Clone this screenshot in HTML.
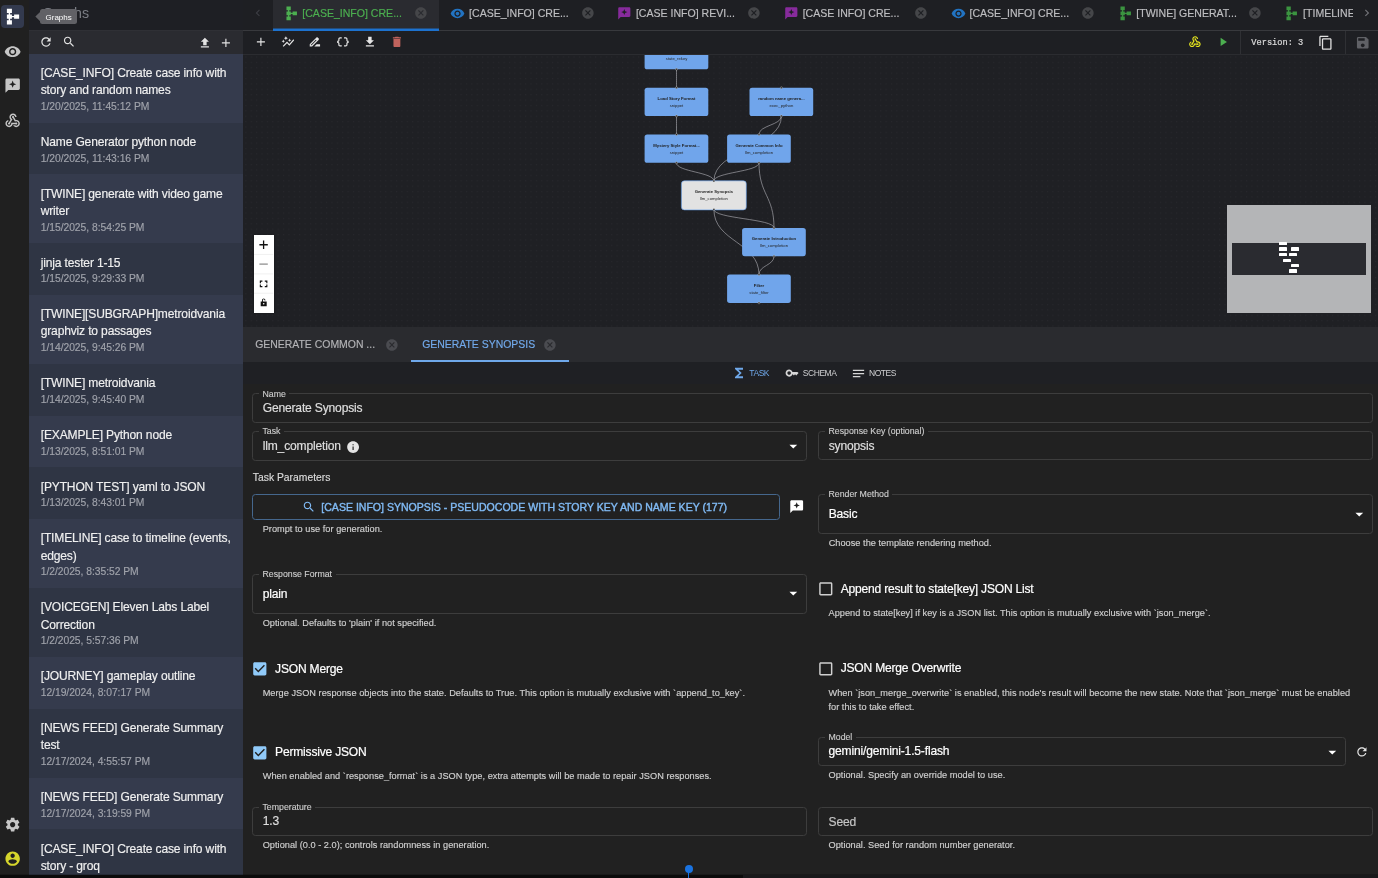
<!DOCTYPE html>
<html><head><meta charset="utf-8"><title>Graphs</title>
<style>
*{box-sizing:border-box;margin:0;padding:0}
html,body{width:1378px;height:878px;overflow:hidden;background:#212121;-webkit-font-smoothing:antialiased;font-family:"Liberation Sans",Arial,sans-serif;color:#fff}
.abs{position:absolute}
#rail{will-change:transform;position:absolute;left:0;top:0;width:29px;height:878px;background:#202020}
#rail .act{position:absolute;left:1px;top:5px;width:23px;height:23px;border-radius:4px;background:#333a4e}
#rail svg{position:absolute;fill:#c6c6c6}
#side{will-change:transform;position:absolute;left:29px;top:0;width:214px;height:878px;background:#2f3544;overflow:hidden}
#side .hd{position:absolute;left:0;top:0;width:214px;height:30px;background:#1e1f24}
#side .hd .t{position:absolute;left:13.5px;top:3px;font-size:14.2px;line-height:20px;color:#7b7e85}
#side .tb{position:absolute;left:0;top:30px;width:214px;height:23.6px;background:#2a2b30;border-top:1px solid #2f3035}
#side .tb svg{position:absolute;fill:#e3e3e3}
.tip{position:absolute;left:11px;top:9.3px;height:15px;width:37.3px;background:#616166;border-radius:2.5px;font-size:8px;line-height:15px;color:#fff;text-align:center;padding-top:.8px}
.tip:before{content:"";position:absolute;left:-2.6px;top:4.2px;width:6.6px;height:6.6px;background:#616166;transform:rotate(45deg)}
.tip span{position:relative}
#list{position:absolute;left:0;top:53.6px;width:214px}
.it{width:214px;padding:11.3px 0 8.65px 11.7px}
.it.o{background:#353b4d}
.it.e{background:#2f3544}
.it .n{font-size:12.05px;line-height:17.2px;color:#f0f0f0;white-space:nowrap;letter-spacing:-.155px;-webkit-text-stroke:.16px #f0f0f0}
.it .d{font-size:10.33px;line-height:14px;color:#a0a3ab;margin-top:.6px;letter-spacing:-.04px;-webkit-text-stroke:.15px #a0a3ab}
#main{will-change:transform;position:absolute;left:243px;top:0;width:1135px;height:878px;background:#212121}

#tabs{position:absolute;left:0;top:0;width:1135px;height:31px;background:#1e1f23;border-bottom:1px solid #38393d}
.tab{position:absolute;top:0;height:30px;width:166.8px}
.tab.on{background:#2a2b30;height:31px}
.tab.on:after{content:"";position:absolute;left:0;top:28px;width:100%;height:3px;background:linear-gradient(#1d72cf 0,#1d72cf 100%);box-shadow:inset 0 1px 0 #2a2b3088}
.tab svg{position:absolute}
.tab .tx{position:absolute;left:29.8px;top:6px;font-size:10.55px;line-height:14px;color:#bebec1;white-space:nowrap;letter-spacing:0;-webkit-text-stroke:.18px}
.tab.on .tx{color:#4caf50}
.tab .x{left:141.3px;top:6.3px;fill:#454649}
#tbar{position:absolute;left:0;top:31px;width:1135px;height:24px;background:#1e1f23;border-bottom:1px solid #2b2c30}
#tbar svg{position:absolute;top:4.3px;fill:#e6e6e6}
#tbar .vd{position:absolute;top:0;width:1px;height:23px;background:#2f3034}
#tbar .ver{position:absolute;left:1008.3px;top:5.9px;-webkit-text-stroke:.2px #dcdcdc;font-family:"Liberation Mono",monospace;font-size:8.67px;line-height:13px;color:#dcdcdc;white-space:nowrap}
#cv{position:absolute;left:0;top:55px;width:1135px;height:272px;background:#1f2024;overflow:hidden}

#ntabs{position:absolute;left:0;top:327px;width:1135px;height:35px;background:#2a2b2f}
#ntabs .nt{position:absolute;font-size:10.45px;line-height:14px;color:#b4b4b7;white-space:nowrap;-webkit-text-stroke:.15px}
#ntabs svg{position:absolute;top:12px;fill:#4a4b50}
#ntabs .ul{position:absolute;left:168px;top:32.4px;width:158px;height:2.2px;background:#6fa8ea}
#stabs{position:absolute;left:0;top:362px;width:1135px;height:24px;background:#1f2024;border-bottom:2px solid #2a2b2e}
#stabs .st{position:absolute;font-size:8.5px;line-height:11px;color:#d0d0d2;white-space:nowrap;letter-spacing:-.45px}
#stabs svg{position:absolute}
#form{position:absolute;left:0;top:384px;width:1135px;height:494px;background:#212121}
.f{position:absolute;border:1px solid #3d3d3d;border-radius:3.4px}
.f .l{position:absolute;left:5.9px;padding:0 3.6px;background:#212121;font-size:8.75px;line-height:11px;color:#cfcfcf;white-space:nowrap;-webkit-text-stroke:.12px}
.f .v{position:absolute;font-size:12.05px;line-height:16px;color:#dedede;white-space:nowrap;letter-spacing:-.16px;-webkit-text-stroke:.2px}
.f svg{position:absolute;fill:#fff}
.hp{position:absolute;font-size:9.2px;line-height:14.2px;color:#d0d0d0;white-space:nowrap;letter-spacing:.025px;-webkit-text-stroke:.15px}
.cl{position:absolute;font-size:12.05px;line-height:16px;color:#fff;white-space:nowrap;letter-spacing:-.2px;-webkit-text-stroke:.2px}
.cb{position:absolute}
</style></head><body>
<div id="rail"><div class="act"></div>
<svg style="left:3.8px;top:8px;fill:#fff" width="17.3" height="17.3" viewBox="0 0 24 24"><path d="M14 9v2h-3V9H8.500V7H11V1H4v6h2.500v2H4v6h2.500v2H4v6h7v-6H8.500v-2H11v-2h3v2h7V9h-7z"/></svg>
<svg style="left:4.1px;top:42.7px" width="17.3" height="17.3" viewBox="0 0 24 24"><path d="M12 4.500C7 4.500 2.730 7.610 1 12c1.730 4.390 6 7.500 11 7.500s9.270-3.110 11-7.500c-1.730-4.390-6-7.500-11-7.500zM12 17c-2.760 0-5-2.240-5-5s2.240-5 5-5 5 2.240 5 5-2.240 5-5 5zm0-8c-1.660 0-3 1.340-3 3s1.340 3 3 3 3-1.340 3-3-1.340-3-3-3z"/></svg>
<svg style="left:4.1px;top:77px" width="17.3" height="17.3" viewBox="0 0 24 24"><path fill-rule="evenodd" d="M20 2H4c-1.100 0-2 .9-2 2v18l4-4h14c1.100 0 2-.9 2-2V4c0-1.100-.9-2-2-2zM12 5l1.400 3.600L17 10l-3.600 1.400L12 15l-1.400-3.600L7 10l3.600-1.400z"/></svg>
<svg style="left:4.1px;top:111.7px" width="17.3" height="17.3" viewBox="0 0 24 24"><path d="M10 15h5.880c.27-.31.67-.5 1.120-.5.830 0 1.500.67 1.500 1.500s-.67 1.500-1.500 1.500c-.44 0-.84-.19-1.120-.5H11.900c-.46 2.280-2.480 4-4.900 4-2.760 0-5-2.240-5-5 0-2.420 1.720-4.440 4-4.900v2.070c-1.160.41-2 1.530-2 2.830 0 1.650 1.350 3 3 3s3-1.350 3-3v-1zm2.500-11c1.650 0 3 1.350 3 3h2c0-2.760-2.240-5-5-5s-5 2.240-5 5c0 1.430.6 2.710 1.550 3.620l-2.350 3.900c-.68.140-1.200.75-1.200 1.480 0 .83.67 1.500 1.500 1.500s1.500-.67 1.500-1.500c0-.16-.02-.31-.07-.45l3.380-5.630C10.490 9.610 9.500 8.420 9.500 7c0-1.650 1.350-3 3-3zm4.500 9c-.64 0-1.230.2-1.720.54l-3.050-5.070C11.530 8.350 11 7.740 11 7c0-.83.67-1.500 1.500-1.500S14 6.170 14 7c0 .15-.02.29-.06.43l2.190 3.650c.28-.05.57-.08.870-.08 2.760 0 5 2.240 5 5s-2.240 5-5 5c-1.850 0-3.470-1.010-4.330-2.500h2.670c.48.32 1.050.5 1.660.5 1.650 0 3-1.350 3-3s-1.350-3-3-3z"/></svg>
<svg style="left:4.1px;top:815.6px" width="17.3" height="17.3" viewBox="0 0 24 24"><path d="M19.140 12.940c.04-.3.06-.61.06-.94 0-.32-.02-.64-.07-.94l2.030-1.580c.18-.14.23-.41.12-.61l-1.920-3.320c-.12-.22-.37-.29-.59-.22l-2.390.96c-.5-.38-1.030-.7-1.620-.94l-.36-2.540c-.04-.24-.24-.41-.48-.41h-3.840c-.24 0-.43.17-.47.41l-.36 2.540c-.59.24-1.130.57-1.620.94l-2.390-.96c-.22-.08-.47 0-.59.22L2.740 8.870c-.12.21-.08.47.12.61l2.030 1.580c-.05.3-.09.63-.09.94s.02.64.07.94l-2.030 1.580c-.18.14-.23.41-.12.61l1.920 3.320c.12.22.37.29.59.22l2.390-.96c.5.38 1.030.7 1.620.94l.36 2.540c.05.24.24.41.48.41h3.840c.24 0 .44-.17.47-.41l.36-2.540c.59-.24 1.130-.56 1.620-.94l2.390.96c.22.08.47 0 .59-.22l1.920-3.320c.12-.22.07-.47-.12-.61l-2.010-1.580zM12 15.600c-1.980 0-3.600-1.620-3.600-3.600s1.620-3.600 3.600-3.600 3.600 1.620 3.600 3.600-1.620 3.600-3.600 3.600z"/></svg>
<svg style="left:4.1px;top:849.8px;fill:#d6d62c" width="17.3" height="17.3" viewBox="0 0 24 24"><path d="M12 2C6.480 2 2 6.480 2 12s4.480 10 10 10 10-4.480 10-10S17.520 2 12 2zm0 3c1.660 0 3 1.340 3 3s-1.340 3-3 3-3-1.340-3-3 1.340-3 3-3zm0 14.200c-2.500 0-4.710-1.280-6-3.220.03-1.990 4-3.080 6-3.080 1.990 0 5.970 1.090 6 3.080-1.290 1.940-3.500 3.220-6 3.220z"/></svg>
</div>
<div id="side">
<div id="list">
<div class="it o"><div class="n">[CASE_INFO] Create case info with<br>story and random names</div><div class="d">1/20/2025, 11:45:12 PM</div></div>
<div class="it e"><div class="n">Name Generator python node</div><div class="d">1/20/2025, 11:43:16 PM</div></div>
<div class="it o"><div class="n">[TWINE] generate with video game<br>writer</div><div class="d">1/15/2025, 8:54:25 PM</div></div>
<div class="it e"><div class="n">jinja tester 1-15</div><div class="d">1/15/2025, 9:29:33 PM</div></div>
<div class="it o"><div class="n">[TWINE][SUBGRAPH]metroidvania<br>graphviz to passages</div><div class="d">1/14/2025, 9:45:26 PM</div></div>
<div class="it e"><div class="n">[TWINE] metroidvania</div><div class="d">1/14/2025, 9:45:40 PM</div></div>
<div class="it o"><div class="n">[EXAMPLE] Python node</div><div class="d">1/13/2025, 8:51:01 PM</div></div>
<div class="it e"><div class="n">[PYTHON TEST] yaml to JSON</div><div class="d">1/13/2025, 8:43:01 PM</div></div>
<div class="it o"><div class="n">[TIMELINE] case to timeline (events,<br>edges)</div><div class="d">1/2/2025, 8:35:52 PM</div></div>
<div class="it e"><div class="n">[VOICEGEN] Eleven Labs Label<br>Correction</div><div class="d">1/2/2025, 5:57:36 PM</div></div>
<div class="it o"><div class="n">[JOURNEY] gameplay outline</div><div class="d">12/19/2024, 8:07:17 PM</div></div>
<div class="it e"><div class="n">[NEWS FEED] Generate Summary<br>test</div><div class="d">12/17/2024, 4:55:57 PM</div></div>
<div class="it o"><div class="n">[NEWS FEED] Generate Summary</div><div class="d">12/17/2024, 3:19:59 PM</div></div>
<div class="it e"><div class="n">[CASE_INFO] Create case info with<br>story - groq</div></div>
</div>
<div class="hd"><div class="t">Graphs</div></div>
<div class="tb">
<svg style="left:9.5px;top:4.1px" width="14" height="14" viewBox="0 0 24 24"><path d="M17.65 6.35C16.2 4.9 14.21 4 12 4c-4.42 0-7.99 3.58-7.99 8s3.57 8 7.99 8c3.73 0 6.84-2.55 7.73-6h-2.08c-.82 2.33-3.04 4-5.65 4-3.31 0-6-2.69-6-6s2.69-6 6-6c1.66 0 3.14.69 4.22 1.78L13 11h7V4l-2.35 2.35z"/></svg>
<svg style="left:33.2px;top:4.4px" width="14.2" height="13.8" viewBox="0 0 24 24"><path d="M15.5 14h-.79l-.28-.27C15.41 12.59 16 11.11 16 9.5 16 5.91 13.09 3 9.5 3S3 5.91 3 9.5 5.91 16 9.5 16c1.61 0 3.09-.59 4.23-1.57l.27.28v.79l5 4.99L20.49 19l-4.99-5zm-6 0C7.01 14 5 11.99 5 9.5S7.01 5 9.5 5 14 7.01 14 9.5 11.990 14 9.5 14z"/></svg>
<svg style="left:168.6px;top:4.6px" width="13.8" height="13.8" viewBox="0 0 24 24"><path d="M9 16h6v-6h4l-7-7-7 7h4zm-4 2h14v2H5z"/></svg>
<svg style="left:190.4px;top:4.6px" width="13.8" height="13.8" viewBox="0 0 24 24"><path d="M19 13h-6v6h-2v-6H5v-2h6V5h2v6h6v2z"/></svg>
</div>
<div class="tip"><span>Graphs</span></div>
</div>
<div id="main">
<div id="tabs">
<svg class="abs" style="left:8.4px;top:6.1px;fill:#3c3d43" width="13.8" height="13.8" viewBox="0 0 24 24"><path d="M15.410 7.410 14 6l-6 6 6 6 1.410-1.410L10.830 12z"/></svg>
<div class="abs" style="left:29.5px;top:0;width:1080.5px;height:31px;overflow:hidden">
<div class="tab on" style="left:0.0px"><svg style="left:11.2px;top:5.9px;fill:#4caf50" width="14.8" height="14.8" viewBox="0 0 24 24"><path d="M14 9v2h-3V9H8.500V7H11V1H4v6h2.500v2H4v6h2.500v2H4v6h7v-6H8.500v-2H11v-2h3v2h7V9h-7z"/></svg><div class="tx">[CASE_INFO] CRE...</div><svg class="x" width="13.8" height="13.8" viewBox="0 0 24 24"><path d="M12 2C6.470 2 2 6.470 2 12s4.470 10 10 10 10-4.470 10-10S17.530 2 12 2zm5 13.590L15.590 17 12 13.410 8.410 17 7 15.590 10.590 12 7 8.410 8.410 7 12 10.590 15.590 7 17 8.410 13.410 12 17 15.590z"/></svg></div>
<div class="tab" style="left:166.8px"><svg style="left:11.2px;top:5.9px;fill:#2273c2" width="15" height="15" viewBox="0 0 24 24"><path d="M12 4.500C7 4.500 2.730 7.610 1 12c1.730 4.390 6 7.500 11 7.500s9.270-3.110 11-7.500c-1.730-4.390-6-7.500-11-7.500zM12 17c-2.760 0-5-2.240-5-5s2.240-5 5-5 5 2.240 5 5-2.240 5-5 5zm0-8c-1.660 0-3 1.340-3 3s1.340 3 3 3 3-1.340 3-3-1.340-3-3-3z"/></svg><div class="tx">[CASE_INFO] CRE...</div><svg class="x" width="13.8" height="13.8" viewBox="0 0 24 24"><path d="M12 2C6.470 2 2 6.470 2 12s4.470 10 10 10 10-4.470 10-10S17.530 2 12 2zm5 13.590L15.590 17 12 13.410 8.410 17 7 15.590 10.590 12 7 8.410 8.410 7 12 10.590 15.590 7 17 8.410 13.410 12 17 15.590z"/></svg></div>
<div class="tab" style="left:333.6px"><svg style="left:11.2px;top:5.9px;fill:#872b9c" width="14.6" height="14.6" viewBox="0 0 24 24"><path fill-rule="evenodd" d="M20 2H4c-1.100 0-2 .9-2 2v18l4-4h14c1.100 0 2-.9 2-2V4c0-1.100-.9-2-2-2zM12 5l1.400 3.600L17 10l-3.600 1.400L12 15l-1.400-3.600L7 10l3.600-1.400z"/></svg><div class="tx">[CASE INFO] REVI...</div><svg class="x" width="13.8" height="13.8" viewBox="0 0 24 24"><path d="M12 2C6.470 2 2 6.470 2 12s4.470 10 10 10 10-4.470 10-10S17.530 2 12 2zm5 13.590L15.590 17 12 13.410 8.410 17 7 15.590 10.590 12 7 8.410 8.410 7 12 10.590 15.590 7 17 8.410 13.410 12 17 15.590z"/></svg></div>
<div class="tab" style="left:500.4px"><svg style="left:11.2px;top:5.9px;fill:#872b9c" width="14.6" height="14.6" viewBox="0 0 24 24"><path fill-rule="evenodd" d="M20 2H4c-1.100 0-2 .9-2 2v18l4-4h14c1.100 0 2-.9 2-2V4c0-1.100-.9-2-2-2zM12 5l1.400 3.600L17 10l-3.600 1.400L12 15l-1.400-3.600L7 10l3.600-1.400z"/></svg><div class="tx">[CASE INFO] CRE...</div><svg class="x" width="13.8" height="13.8" viewBox="0 0 24 24"><path d="M12 2C6.470 2 2 6.470 2 12s4.470 10 10 10 10-4.470 10-10S17.530 2 12 2zm5 13.590L15.590 17 12 13.410 8.410 17 7 15.590 10.590 12 7 8.410 8.410 7 12 10.590 15.590 7 17 8.410 13.410 12 17 15.590z"/></svg></div>
<div class="tab" style="left:667.2px"><svg style="left:11.2px;top:5.9px;fill:#2273c2" width="15" height="15" viewBox="0 0 24 24"><path d="M12 4.500C7 4.500 2.730 7.610 1 12c1.730 4.390 6 7.500 11 7.500s9.270-3.110 11-7.500c-1.730-4.390-6-7.500-11-7.500zM12 17c-2.760 0-5-2.240-5-5s2.240-5 5-5 5 2.240 5 5-2.240 5-5 5zm0-8c-1.660 0-3 1.340-3 3s1.340 3 3 3 3-1.340 3-3-1.340-3-3-3z"/></svg><div class="tx">[CASE_INFO] CRE...</div><svg class="x" width="13.8" height="13.8" viewBox="0 0 24 24"><path d="M12 2C6.470 2 2 6.470 2 12s4.470 10 10 10 10-4.470 10-10S17.530 2 12 2zm5 13.590L15.590 17 12 13.410 8.410 17 7 15.590 10.590 12 7 8.410 8.410 7 12 10.590 15.590 7 17 8.410 13.410 12 17 15.590z"/></svg></div>
<div class="tab" style="left:834.0px"><svg style="left:11.2px;top:5.9px;fill:#3b9440" width="14.8" height="14.8" viewBox="0 0 24 24"><path d="M14 9v2h-3V9H8.500V7H11V1H4v6h2.500v2H4v6h2.500v2H4v6h7v-6H8.500v-2H11v-2h3v2h7V9h-7z"/></svg><div class="tx">[TWINE] GENERAT...</div><svg class="x" width="13.8" height="13.8" viewBox="0 0 24 24"><path d="M12 2C6.470 2 2 6.470 2 12s4.470 10 10 10 10-4.470 10-10S17.530 2 12 2zm5 13.590L15.590 17 12 13.410 8.410 17 7 15.590 10.590 12 7 8.410 8.410 7 12 10.590 15.590 7 17 8.410 13.410 12 17 15.590z"/></svg></div>
<div class="tab" style="left:1000.8px"><svg style="left:11.2px;top:5.9px;fill:#3b9440" width="14.8" height="14.8" viewBox="0 0 24 24"><path d="M14 9v2h-3V9H8.500V7H11V1H4v6h2.500v2H4v6h2.500v2H4v6h7v-6H8.500v-2H11v-2h3v2h7V9h-7z"/></svg><div class="tx">[TIMELINE</div><svg class="x" width="13.8" height="13.8" viewBox="0 0 24 24"><path d="M12 2C6.470 2 2 6.470 2 12s4.470 10 10 10 10-4.470 10-10S17.530 2 12 2zm5 13.590L15.590 17 12 13.410 8.410 17 7 15.590 10.590 12 7 8.410 8.410 7 12 10.590 15.590 7 17 8.410 13.410 12 17 15.590z"/></svg></div>
</div>
<div class="abs" style="left:1110px;top:0;width:25px;height:30px;background:#1e1f23"></div>
<svg class="abs" style="left:1117.4px;top:6.1px;fill:#727378" width="13.8" height="13.8" viewBox="0 0 24 24"><path d="M10 6 8.590 7.410 13.170 12l-4.580 4.590L10 18l6-6z"/></svg>
</div>
<div id="tbar">
<svg style="left:10.6px" width="13.8" height="13.8" viewBox="0 0 24 24"><path d="M19 13h-6v6h-2v-6H5v-2h6V5h2v6h6v2z"/></svg>
<svg style="left:37.7px" width="13.8" height="13.8" viewBox="0 0 24 24"><path d="M14.060 9.940 12 9l2.060-.94L15 6l.94 2.060L18 9l-2.060.94L15 12l-.94-2.060zM4 14l.94-2.060L7 11l-2.060-.94L4 8l-.94 2.060L1 11l2.060.94L4 14zm4.500-5 1.090-2.410L12 5.500 9.590 4.410 8.500 2 7.410 4.410 5 5.500l2.410 1.090L8.500 9zm-4 11.500 6-6.010 4 4L23 8.930l-1.410-1.410-7.090 7.970-4-4L3 19l1.500 1.500z"/></svg>
<svg style="left:65.0px" width="13.8" height="13.8" viewBox="0 0 24 24"><path d="M18.410 5.800 17.200 4.590c-.78-.78-2.050-.78-2.830 0l-2.680 2.680L3 15.960V20h4.040l8.740-8.740 2.630-2.630c.79-.78.79-2.050 0-2.830zM6.210 18H5v-1.210l8.660-8.660 1.210 1.210L6.210 18zM11 20l4-4h6v4H11z"/></svg>
<svg style="left:92.6px" width="13.8" height="13.8" viewBox="0 0 24 24"><path d="M4 7v2c0 .55-.45 1-1 1H2v4h1c.55 0 1 .45 1 1v2c0 1.650 1.350 3 3 3h3v-2H7c-.55 0-1-.45-1-1v-2c0-1.300-.84-2.420-2-2.830v-.34C5.160 11.420 6 10.300 6 9V7c0-.55.45-1 1-1h3V4H7C5.350 4 4 5.350 4 7zm17 3c-.55 0-1-.45-1-1V7c0-1.650-1.350-3-3-3h-3v2h3c.55 0 1 .45 1 1v2c0 1.300.84 2.420 2 2.830v.34c-1.160.41-2 1.520-2 2.830v2c0 .55-.45 1-1 1h-3v2h3c1.650 0 3-1.350 3-3v-2c0-.55.45-1 1-1h1v-4h-1z"/></svg>
<svg style="left:119.9px" width="13.8" height="13.8" viewBox="0 0 24 24"><path d="M19 9h-4V3H9v6H5l7 7 7-7zM5 18v2h14v-2H5z"/></svg>
<svg style="left:146.9px;fill:#c0635d" width="13.8" height="13.8" viewBox="0 0 24 24"><path d="M6 19c0 1.100.9 2 2 2h8c1.100 0 2-.9 2-2V7H6v12zM19 4h-3.500l-1-1h-5l-1 1H5v2h14V4z"/></svg>
<svg style="left:945.3px;fill:#e6e61e" width="13.8" height="13.8" viewBox="0 0 24 24"><path d="M10 15h5.880c.27-.31.67-.5 1.120-.5.830 0 1.500.67 1.500 1.500s-.67 1.500-1.500 1.500c-.44 0-.84-.19-1.120-.5H11.900c-.46 2.280-2.480 4-4.900 4-2.760 0-5-2.240-5-5 0-2.420 1.720-4.440 4-4.900v2.070c-1.160.41-2 1.530-2 2.830 0 1.650 1.350 3 3 3s3-1.350 3-3v-1zm2.500-11c1.650 0 3 1.350 3 3h2c0-2.760-2.240-5-5-5s-5 2.240-5 5c0 1.430.6 2.710 1.550 3.620l-2.350 3.900c-.68.140-1.200.75-1.200 1.480 0 .83.67 1.500 1.500 1.500s1.500-.67 1.500-1.500c0-.16-.02-.31-.07-.45l3.380-5.630C10.490 9.610 9.500 8.420 9.500 7c0-1.650 1.350-3 3-3zm4.500 9c-.64 0-1.230.2-1.720.54l-3.050-5.070C11.530 8.350 11 7.740 11 7c0-.83.67-1.500 1.500-1.500S14 6.170 14 7c0 .15-.02.29-.06.43l2.190 3.650c.28-.05.57-.08.870-.08 2.760 0 5 2.240 5 5s-2.240 5-5 5c-1.850 0-3.470-1.010-4.330-2.500h2.670c.48.32 1.050.5 1.660.5 1.650 0 3-1.350 3-3s-1.350-3-3-3z"/></svg>
<svg style="left:972.8px;fill:#4caf50" width="13.8" height="13.8" viewBox="0 0 24 24"><path d="M8 5v14l11-7z"/></svg>
<div class="vd" style="left:996.6px"></div><div class="ver">Version: 3</div>
<svg style="left:1075.2px;fill:#e0e0e0;top:3.5px" width="15.5" height="15.5" viewBox="0 0 24 24"><path d="M16 1H4c-1.100 0-2 .9-2 2v14h2V3h12V1zm3 4H8c-1.100 0-2 .9-2 2v14c0 1.100.9 2 2 2h11c1.100 0 2-.9 2-2V7c0-1.100-.9-2-2-2zm0 16H8V7h11v14z"/></svg>
<div class="vd" style="left:1101.5px"></div>
<svg style="left:1112.2px;fill:#606166;top:3.5px" width="15.5" height="15.5" viewBox="0 0 24 24"><path d="M17 3H5c-1.110 0-2 .9-2 2v14c0 1.100.89 2 2 2h14c1.100 0 2-.9 2-2V7l-4-4zm-5 16c-1.660 0-3-1.340-3-3s1.340-3 3-3 3 1.340 3 3-1.340 3-3 3zm3-10H5V5h10v4z"/></svg>
</div>
<div id="ntabs">
<div class="nt" style="left:12.2px;top:11px">GENERATE COMMON ...</div>
<svg style="left:142.00px;top:11.4px" width="13.8" height="13.8" viewBox="0 0 24 24"><path d="M12 2C6.470 2 2 6.470 2 12s4.470 10 10 10 10-4.470 10-10S17.530 2 12 2zm5 13.590L15.590 17 12 13.410 8.410 17 7 15.590 10.590 12 7 8.410 8.410 7 12 10.590 15.590 7 17 8.410 13.410 12 17 15.590z"/></svg>
<div class="nt" style="left:179.2px;top:11px;color:#72aaec">GENERATE SYNOPSIS</div>
<svg style="left:300.30px;top:11.4px" width="13.8" height="13.8" viewBox="0 0 24 24"><path d="M12 2C6.470 2 2 6.470 2 12s4.470 10 10 10 10-4.470 10-10S17.530 2 12 2zm5 13.590L15.590 17 12 13.410 8.410 17 7 15.590 10.590 12 7 8.410 8.410 7 12 10.590 15.590 7 17 8.410 13.410 12 17 15.590z"/></svg>
<div class="ul" style="left:168.2px;top:32.6px;width:157.8px;height:2.4px"></div>
</div>
<div id="stabs">
<svg style="left:488.10px;top:3.25px;fill:#6fa8ea" width="16" height="16" viewBox="0 0 24 24"><path d="M18 4H6v2l6.500 6L6 18v2h12v-3h-7l5-5-5-5h7z"/></svg>
<div class="st" style="left:506.3px;top:5.7px;color:#6fa8ea">TASK</div>
<svg style="left:542.10px;top:4.10px;fill:#d6d6d6" width="14.2" height="14.2" viewBox="0 0 24 24"><path d="M21 10h-8.350C11.830 7.670 9.610 6 7 6c-3.310 0-6 2.690-6 6s2.690 6 6 6c2.610 0 4.830-1.670 5.650-4H13l2 2 2-2 2 2 4-4.040L21 10zM7 15c-1.650 0-3-1.350-3-3s1.350-3 3-3 3 1.350 3 3-1.350 3-3 3z"/></svg>
<div class="st" style="left:559.8px;top:5.7px">SCHEMA</div>
<svg style="left:608.30px;top:3.80px;fill:#d6d6d6" width="15" height="15" viewBox="0 0 24 24"><path d="M21 11.010 3 11v2h18zM3 16h12v2H3zM21 6H3v2.010L21 8z"/></svg>
<div class="st" style="left:626.0px;top:5.7px">NOTES</div>
</div>
<div id="form">
<div class="f" style="left:9px;top:9px;width:1121px;height:30px"><div class="l" style="top:-5.13px">Name</div><div class="v" style="left:9.70px;top:6.32px">Generate Synopsis</div></div>
<div class="f" style="left:9px;top:47px;width:555px;height:30px"><div class="l" style="top:-6.13px">Task</div><div class="v" style="left:9.70px;top:6.02px">llm_completion</div><svg style="left:92.50px;top:7.60px;fill:#e4e4e4" width="14.2" height="14.2" viewBox="0 0 24 24"><path d="M12 2C6.480 2 2 6.480 2 12s4.480 10 10 10 10-4.480 10-10S17.520 2 12 2zm1 15h-2v-6h2v6zm0-8h-2V7h2v2z"/></svg><svg style="left:530.90px;top:5.00px" width="18.6" height="18.6" viewBox="0 0 24 24"><path d="M7 10l5 5 5-5z"/></svg></div>
<div class="f" style="left:575px;top:47px;width:555px;height:29px"><div class="l" style="top:-6.13px">Response Key (optional)</div><div class="v" style="left:9.70px;top:5.72px">synopsis</div></div>
<div class="hp" style="left:9.8px;top:87.23px;font-size:10.3px;color:#dcdcdc">Task Parameters</div>
<div class="abs" style="left:9px;top:110px;width:528px;height:26px;border:1px solid #45678d;border-radius:3.4px">
<svg class="abs" style="left:48.60px;top:4.90px;fill:#80baf4" width="13.8" height="13.8" viewBox="0 0 24 24"><path d="M15.500 14h-.79l-.28-.27C15.410 12.590 16 11.110 16 9.500 16 5.910 13.090 3 9.500 3S3 5.910 3 9.500 5.910 16 9.500 16c1.610 0 3.090-.59 4.230-1.570l.27.28v.79l5 4.990L20.490 19l-4.990-5zm-6 0C7.010 14 5 11.990 5 9.500S7.010 5 9.500 5 14 7.010 14 9.500 11.990 14 9.500 14z"/></svg>
<div class="abs" style="left:68.3px;top:4.94px;font-size:10.55px;line-height:14px;color:#80baf4;white-space:nowrap;-webkit-text-stroke:.4px #80baf4">[CASE INFO] SYNOPSIS - PSEUDOCODE WITH STORY KEY AND NAME KEY (177)</div>
</div>
<svg class="abs" style="left:545.70px;top:115.20px;fill:#fff" width="15.4" height="15.4" viewBox="0 0 24 24"><path fill-rule="evenodd" d="M20 2H4c-1.100 0-2 .9-2 2v18l4-4h14c1.100 0 2-.9 2-2V4c0-1.100-.9-2-2-2zM12 5l1.400 3.600L17 10l-3.600 1.400L12 15l-1.400-3.600L7 10l3.600-1.400z"/></svg>
<div class="hp" style="left:19.7px;top:138.11px">Prompt to use for generation.</div>
<div class="f" style="left:575px;top:110px;width:555px;height:40px"><div class="l" style="top:-6.13px">Render Method</div><div class="v" style="left:9.70px;top:10.82px;color:#fff">Basic</div><svg style="left:531.10px;top:9.50px" width="18.6" height="18.6" viewBox="0 0 24 24"><path d="M7 10l5 5 5-5z"/></svg></div>
<div class="hp" style="left:585.7px;top:152.31px">Choose the template rendering method.</div>
<div class="f" style="left:9px;top:190px;width:555px;height:40px"><div class="l" style="top:-6.13px">Response Format</div><div class="v" style="left:9.70px;top:10.92px;color:#fff">plain</div><svg style="left:530.90px;top:9.30px" width="18.6" height="18.6" viewBox="0 0 24 24"><path d="M7 10l5 5 5-5z"/></svg></div>
<div class="hp" style="left:19.7px;top:232.11px">Optional. Defaults to 'plain' if not specified.</div>
<svg class="cb" style="left:8.10px;top:275.80px;fill:#90caf9" width="17.6" height="17.6" viewBox="0 0 24 24"><path d="M19 3H5c-1.110 0-2 .9-2 2v14c0 1.100.89 2 2 2h14c1.110 0 2-.9 2-2V5c0-1.100-.89-2-2-2zm-9 14l-5-5 1.410-1.410L10 14.170l7.590-7.590L19 8l-9 9z"/></svg><div class="cl" style="left:32.1px;top:276.72px">JSON Merge</div>
<div class="hp" style="left:19.7px;top:301.91px">Merge JSON response objects into the state. Defaults to True. This option is mutually exclusive with `append_to_key`.</div>
<svg class="cb" style="left:574.00px;top:195.80px;fill:#d0d0d0" width="17.6" height="17.6" viewBox="0 0 24 24"><path d="M19 5v14H5V5h14m0-2H5c-1.100 0-2 .9-2 2v14c0 1.100.9 2 2 2h14c1.100 0 2-.9 2-2V5c0-1.100-.9-2-2-2z"/></svg><div class="cl" style="left:597.7px;top:196.62px">Append result to state[key] JSON List</div>
<div class="hp" style="left:585.5px;top:222.21px">Append to state[key] if key is a JSON list. This option is mutually exclusive with `json_merge`.</div>
<svg class="cb" style="left:574.00px;top:275.50px;fill:#d0d0d0" width="17.6" height="17.6" viewBox="0 0 24 24"><path d="M19 5v14H5V5h14m0-2H5c-1.100 0-2 .9-2 2v14c0 1.100.9 2 2 2h14c1.100 0 2-.9 2-2V5c0-1.100-.9-2-2-2z"/></svg><div class="cl" style="left:597.7px;top:276.32px">JSON Merge Overwrite</div>
<div class="hp" style="left:585.5px;top:301.91px">When `json_merge_overwrite` is enabled, this node's result will become the new state. Note that `json_merge` must be enabled<br>for this to take effect.</div>
<svg class="cb" style="left:8.10px;top:359.50px;fill:#90caf9" width="17.6" height="17.6" viewBox="0 0 24 24"><path d="M19 3H5c-1.110 0-2 .9-2 2v14c0 1.100.89 2 2 2h14c1.110 0 2-.9 2-2V5c0-1.100-.89-2-2-2zm-9 14l-5-5 1.410-1.410L10 14.170l7.590-7.590L19 8l-9 9z"/></svg><div class="cl" style="left:32.1px;top:360.22px">Permissive JSON</div>
<div class="hp" style="left:19.7px;top:385.41px">When enabled and `response_format` is a JSON type, extra attempts will be made to repair JSON responses.</div>
<div class="f" style="left:575px;top:353px;width:528px;height:29px"><div class="l" style="top:-6.13px">Model</div><div class="v" style="left:9.50px;top:5.12px;color:#fff">gemini/gemini-1.5-flash</div><svg style="left:503.60px;top:4.50px" width="18.6" height="18.6" viewBox="0 0 24 24"><path d="M7 10l5 5 5-5z"/></svg></div>
<svg class="abs" style="left:1112.20px;top:361.00px;fill:#e6e6e6" width="13.8" height="13.8" viewBox="0 0 24 24"><path d="M17.650 6.350C16.200 4.900 14.210 4 12 4c-4.420 0-7.990 3.580-7.990 8s3.570 8 7.990 8c3.730 0 6.840-2.550 7.730-6h-2.080c-.82 2.330-3.040 4-5.650 4-3.310 0-6-2.690-6-6s2.690-6 6-6c1.660 0 3.140.69 4.220 1.780L13 11h7V4l-2.350 2.350z"/></svg>
<div class="hp" style="left:585.5px;top:384.21px">Optional. Specify an override model to use.</div>
<div class="f" style="left:9px;top:423px;width:555px;height:29px"><div class="l" style="top:-6.13px">Temperature</div><div class="v" style="left:9.70px;top:5.32px">1.3</div></div>
<div class="hp" style="left:19.7px;top:453.91px">Optional (0.0 - 2.0); controls randomness in generation.</div>
<div class="f" style="left:575px;top:423px;width:555px;height:29px"><div class="v" style="left:9.50px;top:5.72px;color:#c4c4c4">Seed</div></div>
<div class="hp" style="left:585.5px;top:453.81px">Optional. Seed for random number generator.</div>
<div class="abs" style="left:441.9px;top:480.9px;width:8px;height:8px;border-radius:50%;background:#1a73e0"></div>
<div class="abs" style="left:445.4px;top:487.0px;width:1px;height:8px;background:#1a73e0"></div>
</div>
<div id="cv">
<svg class="abs" style="left:0;top:-.6px" width="1135" height="273" viewBox="0 0 1135 273">
<pattern id="dots" x="2.34" y="2.46" width="5.38" height="5.38" patternUnits="userSpaceOnUse"><circle cx="0.6" cy="0.6" r="0.55" fill="#292a2f"/></pattern>
<rect width="1135" height="273" fill="url(#dots)"/>
<g fill="none" stroke="#b1b1b7" stroke-width="0.62">
<path d="M433.5 15.3C433.5 24.5 433.5 24.5 433.5 33.7"/>
<path d="M433.5 62.0C433.5 71.2 433.5 71.2 433.5 80.5"/>
<path d="M538.4 62.0C538.4 71.2 516.0 71.2 516.0 80.5"/>
<path d="M538.4 62.0C538.4 94.5 470.9 94.5 470.9 127.1"/>
<path d="M433.5 108.8C433.5 118.0 470.9 118.0 470.9 127.1"/>
<path d="M516.0 108.8C516.0 118.0 470.9 118.0 470.9 127.1"/>
<path d="M516.0 108.8C516.0 141.3 531.0 141.3 531.0 173.9"/>
<path d="M470.9 155.4C470.9 164.7 531.0 164.7 531.0 173.9"/>
<path d="M470.9 155.4C470.9 188.0 516.0 188.0 516.0 220.6"/>
<path d="M531.0 202.2C531.0 211.4 516.0 211.4 516.0 220.6"/>
</g>
<rect x="401.6" y="-13.0" width="63.7" height="28.3" rx="2.6" fill="#70a5eb"/>
<text x="433.5" y="6.0" text-anchor="middle" font-size="4.2" fill="#252525">state_rekey</text>
<rect x="401.6" y="33.7" width="63.7" height="28.3" rx="2.6" fill="#70a5eb"/>
<text x="433.5" y="45.8" text-anchor="middle" font-size="4.25" font-weight="bold" fill="#1e1e1e">Load Story Format</text>
<text x="433.5" y="52.7" text-anchor="middle" font-size="4.2" fill="#252525">snippet</text>
<rect x="506.5" y="33.7" width="63.7" height="28.3" rx="2.6" fill="#70a5eb"/>
<text x="538.4" y="45.8" text-anchor="middle" font-size="4.25" font-weight="bold" fill="#1e1e1e">random name genera...</text>
<text x="538.4" y="52.7" text-anchor="middle" font-size="4.2" fill="#252525">exec_python</text>
<rect x="401.6" y="80.5" width="63.7" height="28.3" rx="2.6" fill="#70a5eb"/>
<text x="433.5" y="92.6" text-anchor="middle" font-size="4.25" font-weight="bold" fill="#1e1e1e">Mystery Style Format...</text>
<text x="433.5" y="99.5" text-anchor="middle" font-size="4.2" fill="#252525">snippet</text>
<rect x="484.1" y="80.5" width="63.7" height="28.3" rx="2.6" fill="#70a5eb"/>
<text x="516.0" y="92.6" text-anchor="middle" font-size="4.25" font-weight="bold" fill="#1e1e1e">Generate Common Info</text>
<text x="516.0" y="99.5" text-anchor="middle" font-size="4.2" fill="#252525">llm_completion</text>
<rect x="438.4" y="126.8" width="64.9" height="29.1" rx="3" fill="#e2e2e2" stroke="#5f9be8" stroke-width="0.6"/>
<text x="470.9" y="139.2" text-anchor="middle" font-size="4.25" font-weight="bold" fill="#1e1e1e">Generate Synopsis</text>
<text x="470.9" y="146.1" text-anchor="middle" font-size="4.2" fill="#252525">llm_completion</text>
<rect x="499.1" y="173.9" width="63.7" height="28.3" rx="2.6" fill="#70a5eb"/>
<text x="531.0" y="186.0" text-anchor="middle" font-size="4.25" font-weight="bold" fill="#1e1e1e">Generate Introduction</text>
<text x="531.0" y="192.9" text-anchor="middle" font-size="4.2" fill="#252525">llm_completion</text>
<rect x="484.1" y="220.6" width="63.7" height="28.3" rx="2.6" fill="#70a5eb"/>
<text x="516.0" y="232.7" text-anchor="middle" font-size="4.25" font-weight="bold" fill="#1e1e1e">Filter</text>
<text x="516.0" y="239.6" text-anchor="middle" font-size="4.2" fill="#252525">state_filter</text>
<g fill="#2a2a2a" stroke="#d8d8d8" stroke-width="0.35">
<circle cx="433.5" cy="-13.0" r="1"/>
<circle cx="433.5" cy="15.3" r="1"/>
<circle cx="433.5" cy="33.7" r="1"/>
<circle cx="433.5" cy="62.0" r="1"/>
<circle cx="538.4" cy="33.7" r="1"/>
<circle cx="538.4" cy="62.0" r="1"/>
<circle cx="433.5" cy="80.5" r="1"/>
<circle cx="433.5" cy="108.8" r="1"/>
<circle cx="516.0" cy="80.5" r="1"/>
<circle cx="516.0" cy="108.8" r="1"/>
<circle cx="470.9" cy="127.1" r="1"/>
<circle cx="470.9" cy="155.4" r="1"/>
<circle cx="531.0" cy="173.9" r="1"/>
<circle cx="531.0" cy="202.2" r="1"/>
<circle cx="516.0" cy="220.6" r="1"/>
<circle cx="516.0" cy="248.9" r="1"/>
</g>
</svg>
<div class="abs" style="left:11.4px;top:179.9px;width:19.2px;height:77.8px;background:#fff;box-shadow:0 0 2px rgba(0,0,0,.3)">
<svg class="abs" style="left:0;top:0" width="19.2" height="77.8" viewBox="0 0 19.2 77.8"><g stroke="#eee" stroke-width="0.9"><path d="M0 19.4h19.2M0 38.9h19.2M0 58.3h19.2"/></g>
<path d="M5.400 9.100h8.400v1.300h-8.400zM8.950 5.550h1.300v8.400h-1.300z" fill="#111"/>
<path d="M5.400 28.500h8.400v1.200h-8.400z" fill="#888"/>
<path d="M5.800 45.600h2.600v1.100h-1.500v1.500h-1.100zM10.800 45.600h2.600v2.600h-1.100v-1.500h-1.500zM5.800 49.600h1.100v1.500h1.500v1.100h-2.600zM12.300 49.600h1.100v2.600h-2.600v-1.100h1.500z" fill="#111"/>
<path d="M6.700 66.600h6v4.600h-6zM8 66.600v-1.500a1.700 1.700 0 0 1 3.400 0v.3h-.9v-.3a.8.800 0 0 0-1.600 0v1.500z" fill="#111"/><circle cx="9.700" cy="68.800" r=".8" fill="#fff"/>
</svg></div>
<div class="abs" style="left:984px;top:149.8px;width:143.8px;height:107.9px;background:#b4b5b7"><div class="abs" style="left:4.8px;top:38.7px;width:134.4px;height:31.5px;background:#2a2b30"></div><div class="abs" style="left:51.7px;top:37.0px;width:8.4px;height:3.1px;background:#fff;border-radius:.6px"></div><div class="abs" style="left:51.7px;top:42.7px;width:8.4px;height:3.2px;background:#fff;border-radius:.6px"></div><div class="abs" style="left:64.0px;top:42.7px;width:8.4px;height:3.2px;background:#fff;border-radius:.6px"></div><div class="abs" style="left:51.7px;top:48.3px;width:8.4px;height:3.1px;background:#fff;border-radius:.6px"></div><div class="abs" style="left:61.8px;top:48.3px;width:8.0px;height:3.1px;background:#fff;border-radius:.6px"></div><div class="abs" style="left:56.0px;top:53.8px;width:8.2px;height:3.2px;background:#fff;border-radius:.6px"></div><div class="abs" style="left:63.7px;top:59.2px;width:8.2px;height:3.3px;background:#fff;border-radius:.6px"></div><div class="abs" style="left:61.8px;top:64.7px;width:8.0px;height:3.3px;background:#fff;border-radius:.6px"></div></div>
</div>
</div>
<div class="abs" style="left:0;top:874px;width:1378px;height:1px;background:#0003"></div><div class="abs" style="left:0;top:875px;width:743px;height:3px;background:#0b0b0b"></div><div class="abs" style="left:743px;top:875px;width:635px;height:3px;background:#19191b"></div><div class="abs" style="left:688.4px;top:871px;width:1px;height:7px;background:#1a73e0"></div>
</body></html>
